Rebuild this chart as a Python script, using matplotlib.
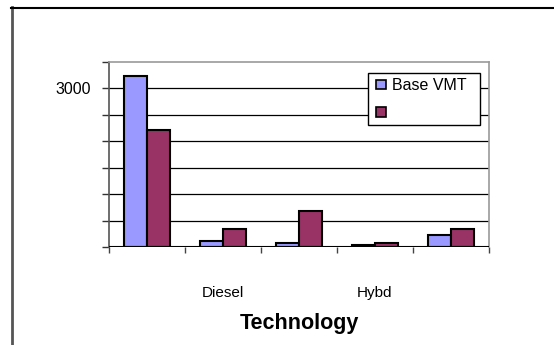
import matplotlib
matplotlib.use("Agg")
import matplotlib.pyplot as plt
import numpy as np
from matplotlib.patches import Patch, Rectangle
from matplotlib.legend_handler import HandlerPatch

plt.rcParams['font.family'] = ['Liberation Sans', 'DejaVu Sans']

categories = ["", "Diesel", "", "Hybd", ""]
base_vmt = [3230, 115, 75, 30, 225]
second_series = [2210, 340, 680, 75, 340]
series_labels = ["Base VMT  ", ""]
y_ticks = [0, 500, 1000, 1500, 2000, 2500, 3000, 3500]
y_tick_labels = ["", "", "", "", "", "", "3000", ""]

blue = "#9999FF"
maroon = "#993366"

fig = plt.figure(figsize=(5.54, 3.45), dpi=100)
ax = fig.add_axes([109 / 554, 98 / 345, 380 / 554, 185.3 / 345])

x = np.arange(len(categories))
w = 0.3
ax.bar(x - w / 2, base_vmt, w, color=blue, edgecolor="black", linewidth=1.5, zorder=3)
ax.bar(x + w / 2, second_series, w, color=maroon, edgecolor="black", linewidth=1.5, zorder=3)

ax.set_xlim(-0.5, len(categories) - 0.5)
ax.set_ylim(0, 3500)

# horizontal gridlines
for v in y_ticks[1:-1]:
    ax.axhline(v, color="black", linewidth=0.9, zorder=1)
ax.axhline(0, color="black", linewidth=1.5, zorder=4)

ax.set_yticks(y_ticks)
ax.set_yticklabels(y_tick_labels, fontsize=11.5)
ax.tick_params(axis="y", direction="out", length=5, width=1, color="#333333", pad=8)

# category boundaries as major ticks, labels centred as minor ticks
ax.set_xticks(np.arange(len(categories) + 1) - 0.5)
ax.set_xticklabels([""] * (len(categories) + 1))
ax.tick_params(axis="x", which="major", direction="out", length=4, width=1, color="#444444")
ax.set_xticks(x, minor=True)
ax.set_xticklabels(categories, minor=True, fontsize=11)
ax.tick_params(axis="x", which="minor", length=0, pad=28)

for side in ["top", "right"]:
    ax.spines[side].set_color("#999999")
    ax.spines[side].set_linewidth(1.2)
ax.spines["left"].set_color("#555555")
ax.spines["left"].set_linewidth(1.2)
ax.spines["bottom"].set_visible(False)


def small_square(legend, orig_handle, xdescent, ydescent, width, height, fontsize):
    side = 7.0
    return Rectangle((width - side - xdescent, (height - side) / 2 - ydescent), side, side)


handles = [Patch(facecolor=blue, edgecolor="black", linewidth=1.2),
           Patch(facecolor=maroon, edgecolor="black", linewidth=1.2)]
leg = fig.legend(handles, series_labels, loc="upper right",
                 bbox_to_anchor=(480 / 554, 1 - 73.3 / 345),
                 fontsize=11.5, handlelength=0.8, handleheight=0.7,
                 handletextpad=0.38, labelspacing=0.78, borderpad=0.3,
                 borderaxespad=0, fancybox=False, framealpha=1,
                 edgecolor="black",
                 handler_map={Patch: HandlerPatch(patch_func=small_square)})
leg.get_frame().set_linewidth(1.0)

fig.text(299 / 554, 1 - 324 / 345, "Technology", fontsize=15.5, fontweight="bold",
         ha="center", va="center")

# outer frame lines
fig.add_artist(plt.Line2D([12 / 554, 12 / 554], [0, 1 - 7 / 345], color="#555555",
                          linewidth=2, transform=fig.transFigure))
fig.add_artist(plt.Line2D([11 / 554, 1], [1 - 7.5 / 345, 1 - 7.5 / 345], color="black",
                          linewidth=1.5, transform=fig.transFigure))

fig.savefig("out.png", dpi=100)
